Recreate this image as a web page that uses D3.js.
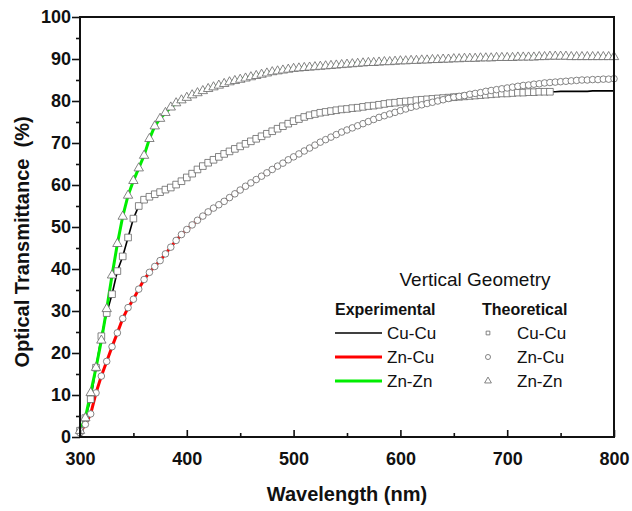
<!DOCTYPE html>
<html>
<head>
	<script src="https://d3js.org/d3.v7.min.js"></script>
	<style>
		body { margin: 0; background: #fff; }
		text { font-family: "Liberation Sans", Arial, sans-serif; }
	</style>
</head>
<body>
<svg width="632" height="511"></svg>
<script>
	// wavelength grid (nm)
	var wavelengths = [300,305,310,315,320,325,330,335,340,345,350,355,360,365,370,375,380,385,390,395,
		400,405,410,415,420,425,430,435,440,445,450,455,460,465,470,475,480,485,490,495,
		500,505,510,515,520,525,530,535,540,545,550,555,560,565,570,575,580,585,590,595,
		600,605,610,615,620,625,630,635,640,645,650,655,660,665,670,675,680,685,690,695,
		700,705,710,715,720,725,730,735,740,745,750,755,760,765,770,775,780,785,790,795,800];

	// transmittance (%) for each sample
	var cuCu = [1.5,4.5,9,16.5,24,29.5,34,39.5,43,47.5,52,55,56.5,57.2,57.8,58.3,58.9,59.4,60.1,60.9,
		61.8,62.7,63.7,64.5,65.3,66.0,66.7,67.4,68.0,68.6,69.2,69.8,70.4,71.0,71.6,72.2,72.8,73.4,74.0,74.6,
		75.2,75.7,76.2,76.6,76.9,77.2,77.4,77.6,77.8,78.0,78.1,78.3,78.4,78.6,78.8,78.9,79.1,79.3,79.5,79.6,
		79.8,79.9,80.0,80.2,80.3,80.4,80.5,80.6,80.7,80.8,80.9,81.0,81.1,81.2,81.3,81.4,81.5,81.6,81.7,81.8,
		81.8,81.9,82.0,82.0,82.1,82.1,82.2,82.2,82.2,82.2,82.3,82.3,82.3,82.3,82.3,82.3,82.4,82.4,82.4,82.4,82.4];
	var znCu = [1.0,3.0,5.5,10.5,14.5,18,21.5,24.8,28.2,30.8,32.8,35.2,37.5,39.2,40.6,42.0,43.6,45.2,46.8,48.2,
		49.4,50.5,51.6,52.6,53.6,54.5,55.3,56.1,57.0,57.9,58.8,59.7,60.5,61.3,62.1,62.9,63.7,64.5,65.2,66.0,
		66.7,67.4,68.1,68.8,69.5,70.2,70.8,71.4,72.0,72.6,73.1,73.6,74.1,74.6,75.1,75.6,76.1,76.5,76.9,77.3,
		77.7,78.1,78.5,78.8,79.1,79.4,79.7,80.0,80.3,80.6,80.9,81.1,81.3,81.6,81.8,82.0,82.3,82.5,82.7,82.9,
		83.1,83.3,83.5,83.7,83.8,84.0,84.1,84.3,84.4,84.5,84.6,84.7,84.8,84.9,85.0,85.0,85.1,85.1,85.2,85.2,85.3];
	var znZn = [1.5,4.5,10.5,16.5,23,30.5,38.5,46,52.5,57.5,61,64,67,71,74,75.8,77.2,78.5,79.5,80.2,
		80.8,81.4,81.9,82.4,82.9,83.3,83.7,84.1,84.5,84.8,85.1,85.4,85.7,86.0,86.3,86.6,86.9,87.1,87.3,87.5,
		87.7,87.8,87.9,88.0,88.1,88.2,88.3,88.4,88.5,88.6,88.7,88.8,88.9,89.0,89.1,89.1,89.2,89.3,89.3,89.4,
		89.5,89.5,89.6,89.6,89.7,89.7,89.8,89.8,89.9,89.9,90.0,90.0,90.1,90.1,90.1,90.2,90.2,90.2,90.3,90.3,
		90.3,90.3,90.4,90.4,90.4,90.4,90.5,90.5,90.6,90.6,90.6,90.6,90.5,90.5,90.5,90.5,90.5,90.5,90.5,90.5,90.5];

	// theoretical Cu-Cu points stop here (nm)
	var cuCuTheoryEnd = 740;

	var xTicks = [300, 400, 500, 600, 700, 800];
	var yTicks = [0, 10, 20, 30, 40, 50, 60, 70, 80, 90, 100];

	var series = [
		{name: "Cu-Cu", values: cuCu, color: "#000000", width: 1.6, symbol: d3.symbolSquare, size: 44, end: cuCuTheoryEnd, legendSize: 14},
		{name: "Zn-Cu", values: znCu, color: "#ff0000", width: 3, symbol: d3.symbolCircle, size: 34, end: 800, legendSize: 20},
		{name: "Zn-Zn", values: znZn, color: "#00ee00", width: 3, symbol: d3.symbolTriangle, size: 38, end: 800, legendSize: 20}
	];

	var svg = d3.select("svg"),
		margin = {top: 17, right: 18, bottom: 74, left: 80},
		width = 632 - margin.left - margin.right,
		height = 511 - margin.top - margin.bottom;

	var x = d3.scaleLinear().domain([300, 800]).range([0, width]);
	var y = d3.scaleLinear().domain([0, 100]).range([height, 0]);

	var g = svg.append("g")
		.attr("transform", "translate(" + margin.left + "," + margin.top + ")");

	// lines (experimental)
	series.forEach(function(s) {
		var line = d3.line()
			.x(function(d, i) { return x(wavelengths[i]); })
			.y(function(d) { return y(d); });
		g.append("path")
			.datum(s.values)
			.attr("fill", "none")
			.attr("stroke", s.color)
			.attr("stroke-width", s.width)
			.attr("d", line);
	});

	// symbols (theoretical)
	series.forEach(function(s) {
		var pts = s.values.map(function(v, i) { return [wavelengths[i], v]; })
			.filter(function(p) { return p[0] <= s.end; });
		g.selectAll(null)
			.data(pts)
			.enter().append("path")
			.attr("d", d3.symbol().type(s.symbol).size(s.size))
			.attr("transform", function(p) { return "translate(" + x(p[0]) + "," + y(p[1]) + ")"; })
			.attr("fill", "#fff")
			.attr("stroke", "#666")
			.attr("stroke-width", 0.8);
	});

	// x axis, ticks inward
	var xAxis = g.append("g")
		.attr("transform", "translate(0," + height + ")")
		.call(d3.axisBottom(x).tickValues(xTicks).tickSize(-7).tickPadding(15).tickFormat(d3.format("d")));
	xAxis.selectAll("text").attr("font-size", 18).attr("font-weight", "bold").attr("fill", "#111");
	g.append("g")
		.attr("transform", "translate(0," + height + ")")
		.call(d3.axisBottom(x).tickValues([350, 450, 550, 650, 750]).tickSize(-4).tickFormat(""));

	// y axis, ticks outward
	var yAxis = g.append("g")
		.call(d3.axisLeft(y).tickValues(yTicks).tickSize(8).tickPadding(1));
	yAxis.selectAll("text").attr("font-size", 18).attr("font-weight", "bold").attr("fill", "#111");
	g.append("g")
		.call(d3.axisLeft(y).tickValues([5, 15, 25, 35, 45, 55, 65, 75, 85, 95]).tickSize(4).tickFormat(""));

	g.selectAll(".domain").remove();
	g.selectAll(".tick line").attr("stroke", "#111").attr("stroke-width", 1.6);

	// frame
	g.append("rect")
		.attr("width", width)
		.attr("height", height)
		.attr("fill", "none")
		.attr("stroke", "#111")
		.attr("stroke-width", 2);

	// axis titles
	svg.append("text")
		.attr("x", margin.left + width / 2)
		.attr("y", 501)
		.attr("text-anchor", "middle")
		.attr("font-size", 20)
		.attr("font-weight", "bold")
		.attr("fill", "#111")
		.text("Wavelength (nm)");

	svg.append("text")
		.attr("transform", "translate(29,242) rotate(-90)")
		.attr("text-anchor", "middle")
		.attr("font-size", 20)
		.attr("font-weight", "bold")
		.attr("fill", "#111")
		.style("white-space", "pre")
		.text("Optical Transmittance  (%)");

	// legend
	var legend = svg.append("g");
	legend.append("text")
		.attr("x", 475).attr("y", 286)
		.attr("text-anchor", "middle")
		.attr("font-size", 19)
		.attr("fill", "#111")
		.text("Vertical Geometry");
	legend.append("text")
		.attr("x", 335).attr("y", 315)
		.attr("font-size", 16).attr("font-weight", "bold").attr("fill", "#111")
		.text("Experimental");
	legend.append("text")
		.attr("x", 482).attr("y", 315)
		.attr("font-size", 16).attr("font-weight", "bold").attr("fill", "#111")
		.text("Theoretical");

	var rows = legend.selectAll(".row")
		.data(series)
		.enter().append("g")
		.attr("class", "row")
		.attr("transform", function(d, i) { return "translate(0," + (333 + i * 24) + ")"; });

	rows.append("line")
		.attr("x1", 335).attr("x2", 382)
		.attr("stroke", function(d) { return d.color; })
		.attr("stroke-width", function(d) { return d.width; });
	rows.append("text")
		.attr("x", 387).attr("y", 6)
		.attr("font-size", 17).attr("fill", "#111")
		.text(function(d) { return d.name; });
	rows.append("path")
		.attr("d", function(d) { return d3.symbol().type(d.symbol).size(d.legendSize)(); })
		.attr("transform", "translate(488,0)")
		.attr("fill", "#fff")
		.attr("stroke", "#666")
		.attr("stroke-width", 0.8);
	rows.append("text")
		.attr("x", 517).attr("y", 6)
		.attr("font-size", 17).attr("fill", "#111")
		.text(function(d) { return d.name; });
</script>
</body>
</html>
